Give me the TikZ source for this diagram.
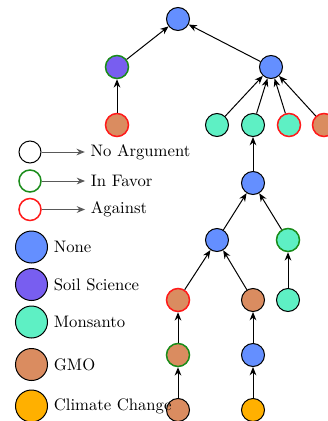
\documentclass[tikz,border=0pt]{standalone}
\usetikzlibrary{arrows.meta,positioning}
\definecolor{cNone}{HTML}{648FFF}
\definecolor{cSoil}{HTML}{785EF0}
\definecolor{cMonsanto}{HTML}{5EF0C4}
\definecolor{cGMO}{HTML}{DA8C60}
\definecolor{cClimate}{HTML}{FFB000}
\definecolor{cFavor}{HTML}{1A8C1A}
\definecolor{cAgainst}{HTML}{FF1A1A}
\tikzset{
  arg/.style={circle, minimum size=13.8pt, inner sep=0pt, draw=black, line width=0.6pt},
  noarg/.style={draw=black, line width=0.6pt},
  favor/.style={draw=cFavor, line width=0.9pt},
  against/.style={draw=cAgainst, line width=0.9pt},
  none/.style={fill=cNone},
  soil/.style={fill=cSoil},
  monsanto/.style={fill=cMonsanto},
  gmo/.style={fill=cGMO},
  climate/.style={fill=cClimate},
  key/.style={circle, minimum size=13.2pt, inner sep=0pt, line width=0.6pt},
  topic/.style={circle, minimum size=19.2pt, inner sep=0pt, draw=black, line width=0.6pt},
}
\begin{document}
\begin{tikzpicture}[x=0.6pt, y=-0.6pt]
  \useasboundingbox (0,0) rectangle (327,421);
  % argument tree
  \node[arg, none, noarg] (root) at (178,19) {};
  \node[arg, soil, favor] (a) at (117,67) {};
  \node[arg, none, noarg] (b) at (271,67) {};
  \node[arg, gmo, against] (c) at (117,125) {};
  \node[arg, monsanto, noarg] (d) at (217,125) {};
  \node[arg, monsanto, noarg] (e) at (253,125) {};
  \node[arg, monsanto, against] (f) at (289,125) {};
  \node[arg, gmo, against] (g) at (324,125) {};
  \node[arg, none, noarg] (h) at (253,183) {};
  \node[arg, none, noarg] (i) at (217,240) {};
  \node[arg, monsanto, favor] (j) at (288,240) {};
  \node[arg, gmo, against] (k) at (178,300) {};
  \node[arg, gmo, noarg] (l) at (253,300) {};
  \node[arg, monsanto, noarg] (m) at (288,300) {};
  \node[arg, gmo, favor] (n) at (178,355) {};
  \node[arg, none, noarg] (o) at (253,355) {};
  \node[arg, gmo, noarg] (p) at (178,410) {};
  \node[arg, climate, noarg] (q) at (253,410) {};
  \begin{scope}[-{Stealth[length=5pt,width=4pt]}, line width=0.6pt]
    \draw (a) to (root);
    \draw (b) to (root);
    \draw (c) to (a);
    \draw (d) to (b);
    \draw (e) to (b);
    \draw (f) to (b);
    \draw (g) to (b);
    \draw (h) to (e);
    \draw (i) to (h);
    \draw (j) to (h);
    \draw (k) to (i);
    \draw (l) to (i);
    \draw (m) to (j);
    \draw (n) to (k);
    \draw (o) to (l);
    \draw (p) to (n);
    \draw (q) to (o);
  \end{scope}
  % legend: stance
  \node[key, noarg] (kNoarg) at (30,152) {};
  \node[key, favor] (kFavor) at (30,181) {};
  \node[key, against] (kAgainst) at (30,209.5) {};
  \node[right=26pt of kNoarg] (tNoarg) {No Argument};
  \node[right=26pt of kFavor] (tFavor) {In Favor};
  \node[right=26pt of kAgainst] (tAgainst) {Against};
  \begin{scope}[-{Stealth[length=5pt,width=4pt]}, line width=0.6pt, draw=black!65]
    \draw (kNoarg) to (tNoarg);
    \draw (kFavor) to (tFavor);
    \draw (kAgainst) to (tAgainst);
  \end{scope}
  % legend: topic
  \node[topic, none] (kNone) at (31.5,247) {};
  \node[topic, soil] (kSoil) at (31.5,284.5) {};
  \node[topic, monsanto] (kMonsanto) at (31.5,322) {};
  \node[topic, gmo] (kGMO) at (31.5,364.5) {};
  \node[topic, climate] (kClimate) at (31.5,406) {};
  \node[right=0pt of kNone] (tNone) {None};
  \node[right=0pt of kSoil] (tSoil) {Soil Science};
  \node[right=0pt of kMonsanto] (tMonsanto) {Monsanto};
  \node[right=0pt of kGMO] (tGMO) {GMO};
  \node[right=0pt of kClimate] (tClimate) {Climate Change};
\end{tikzpicture}
\end{document}
